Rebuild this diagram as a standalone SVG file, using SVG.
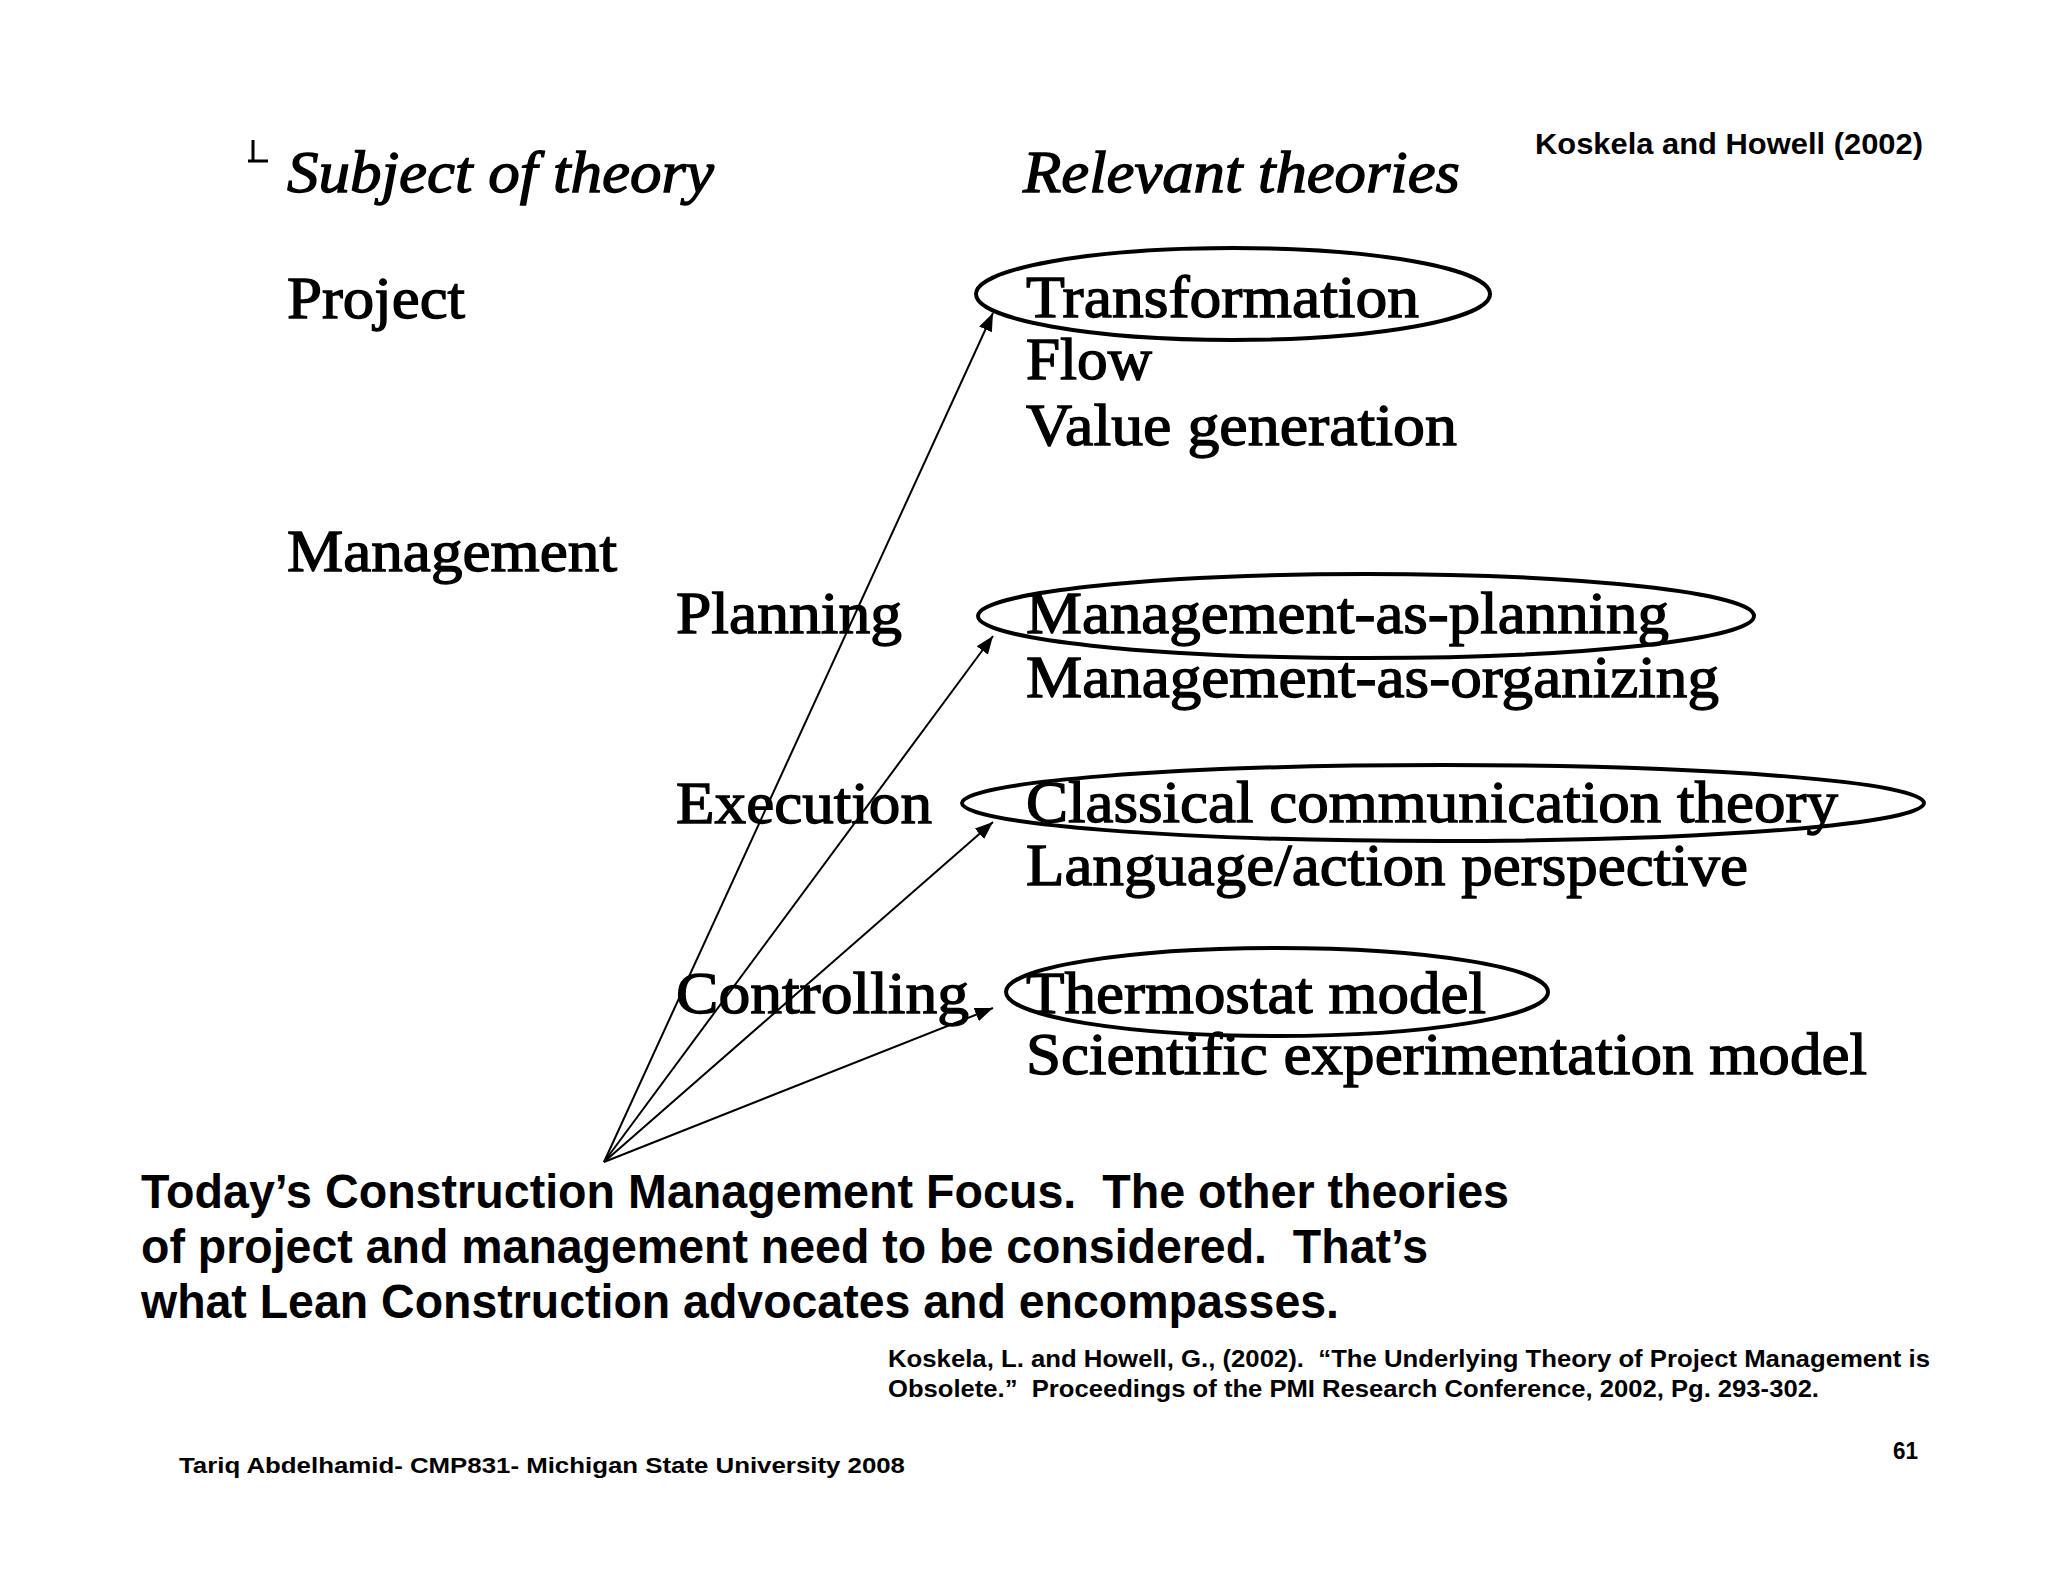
<svg xmlns="http://www.w3.org/2000/svg" width="2048" height="1582" viewBox="0 0 2048 1582">
<defs>
<style>
text{white-space:pre;}
.sr{font-family:"Liberation Serif","Times New Roman",serif;font-size:59px;fill:#000;stroke:#000;stroke-width:1.3px;}
.it{font-style:italic;}
.ab{font-family:"Liberation Sans",Arial,sans-serif;font-weight:bold;fill:#000;}
.ell{fill:none;stroke:#000;stroke-width:4;}
.arr{fill:none;stroke:#000;stroke-width:2;marker-end:url(#ah);}
</style>
<marker id="ah" viewBox="0 0 18 14" refX="18" refY="7" markerWidth="18" markerHeight="14" markerUnits="userSpaceOnUse" orient="auto">
<path d="M0,0 L18,7 L0,14 Z" fill="#000"/>
</marker>
</defs>
<rect width="2048" height="1582" fill="#fff"/>

<path d="M253,140 V161 M248,161 H268" stroke="#000" stroke-width="3" fill="none"/>

<g id="header">
<text class="sr it" x="287" y="192" textLength="427" lengthAdjust="spacingAndGlyphs">Subject of theory</text>
<text class="sr it" x="1023" y="192" textLength="437" lengthAdjust="spacingAndGlyphs">Relevant theories</text>
<text class="ab" x="1535" y="154" font-size="30" textLength="388" lengthAdjust="spacingAndGlyphs">Koskela and Howell (2002)</text>
</g>

<g id="subjects">
<text class="sr" x="287" y="318" textLength="178" lengthAdjust="spacingAndGlyphs">Project</text>
<text class="sr" x="287" y="571" textLength="330" lengthAdjust="spacingAndGlyphs">Management</text>
<text class="sr" x="676" y="633" textLength="226" lengthAdjust="spacingAndGlyphs">Planning</text>
<text class="sr" x="676" y="823" textLength="256" lengthAdjust="spacingAndGlyphs">Execution</text>
<text class="sr" x="676" y="1013" textLength="293" lengthAdjust="spacingAndGlyphs">Controlling</text>
</g>

<g id="theory-transformation">
<ellipse class="ell" cx="1233" cy="294" rx="257" ry="46"/>
<text class="sr" x="1026" y="317" textLength="393" lengthAdjust="spacingAndGlyphs">Transformation</text>
</g>
<g id="theory-flow">
<text class="sr" x="1026" y="379" textLength="126" lengthAdjust="spacingAndGlyphs">Flow</text>
</g>
<g id="theory-value">
<text class="sr" x="1026" y="445" textLength="431" lengthAdjust="spacingAndGlyphs">Value generation</text>
</g>
<g id="theory-mgmt-planning">
<ellipse class="ell" cx="1366" cy="616" rx="388" ry="42"/>
<text class="sr" x="1026" y="633" textLength="643" lengthAdjust="spacingAndGlyphs">Management-as-planning</text>
</g>
<g id="theory-mgmt-organizing">
<text class="sr" x="1026" y="697" textLength="693" lengthAdjust="spacingAndGlyphs">Management-as-organizing</text>
</g>
<g id="theory-classical">
<ellipse class="ell" cx="1443" cy="803" rx="481" ry="38"/>
<text class="sr" x="1026" y="822" textLength="812" lengthAdjust="spacingAndGlyphs">Classical communication theory</text>
</g>
<g id="theory-language">
<text class="sr" x="1026" y="885" textLength="722" lengthAdjust="spacingAndGlyphs">Language/action perspective</text>
</g>
<g id="theory-thermostat">
<ellipse class="ell" cx="1277" cy="992" rx="271" ry="44"/>
<text class="sr" x="1026" y="1013" textLength="460" lengthAdjust="spacingAndGlyphs">Thermostat model</text>
</g>
<g id="theory-scientific">
<text class="sr" x="1026" y="1074" textLength="841" lengthAdjust="spacingAndGlyphs">Scientific experimentation model</text>
</g>

<g id="connectors">
<line class="arr" x1="604" y1="1162" x2="993" y2="313"/>
<line class="arr" x1="604" y1="1162" x2="993" y2="636"/>
<line class="arr" x1="604" y1="1162" x2="993" y2="822"/>
<line class="arr" x1="604" y1="1162" x2="993" y2="1008"/>
</g>

<g id="focus-note">
<text class="ab" font-size="49" x="141" y="1208" textLength="1368" lengthAdjust="spacingAndGlyphs">Today’s Construction Management Focus.  The other theories</text>
<text class="ab" font-size="49" x="141" y="1263" textLength="1287" lengthAdjust="spacingAndGlyphs">of project and management need to be considered.  That’s</text>
<text class="ab" font-size="49" x="141" y="1318" textLength="1198" lengthAdjust="spacingAndGlyphs">what Lean Construction advocates and encompasses.</text>
</g>

<g id="citation">
<text class="ab" font-size="23" x="888" y="1367" textLength="1042" lengthAdjust="spacingAndGlyphs">Koskela, L. and Howell, G., (2002).  “The Underlying Theory of Project Management is</text>
<text class="ab" font-size="23" x="888" y="1397" textLength="931" lengthAdjust="spacingAndGlyphs">Obsolete.”  Proceedings of the PMI Research Conference, 2002, Pg. 293-302.</text>
</g>

<g id="footer">
<text class="ab" font-size="22" x="179" y="1473" textLength="726" lengthAdjust="spacingAndGlyphs">Tariq Abdelhamid- CMP831- Michigan State University 2008</text>
<text class="ab" font-size="23" x="1893" y="1459" textLength="25" lengthAdjust="spacingAndGlyphs">61</text>
</g>
</svg>
